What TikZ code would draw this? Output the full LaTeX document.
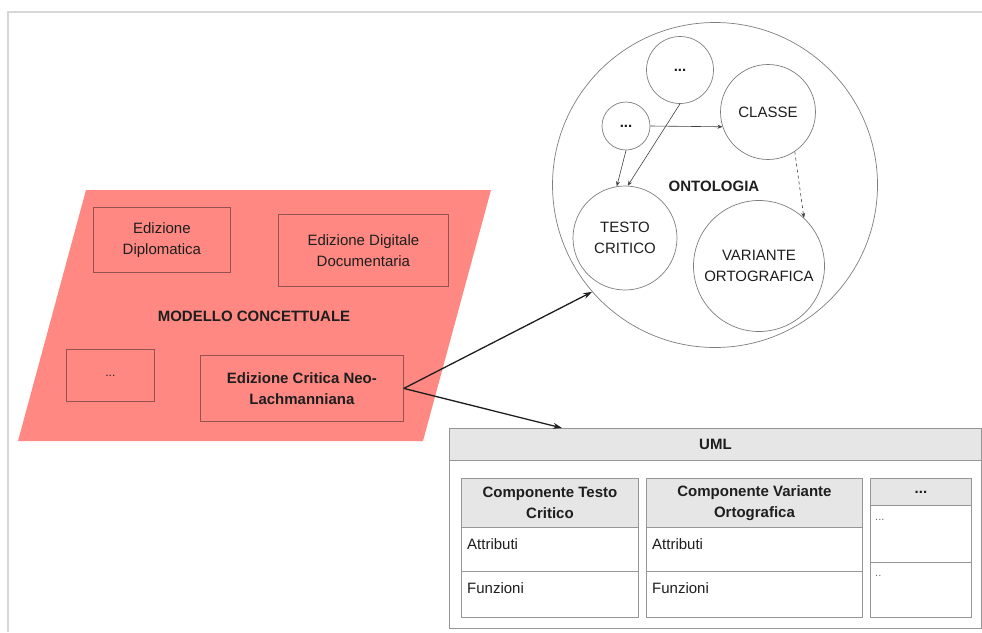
\documentclass[tikz,border=0pt]{standalone}
\usepackage{fontspec}
\setmainfont{Liberation Sans}
\usetikzlibrary{shapes.geometric,arrows.meta}
\definecolor{salmon}{RGB}{255,137,130}
\definecolor{boxedge}{RGB}{150,82,78}
\definecolor{hdrgray}{RGB}{230,230,230}
\definecolor{tabedge}{RGB}{150,150,150}
\definecolor{ringgray}{RGB}{125,125,125}
\definecolor{framegray}{RGB}{214,214,214}
\definecolor{inkgray}{RGB}{30,30,30}

\begin{document}
\begin{tikzpicture}[x=1pt,y=-1pt,
  every node/.style={font=\fontsize{15}{21}\selectfont, text=inkgray, inner sep=0pt},
  conceptbox/.style={draw=boxedge, line width=0.8pt, fill=salmon, align=center, anchor=north west},
  ring/.style={circle, draw=ringgray, line width=0.7pt, fill=white, align=center},
  link/.style={draw=inkgray, line width=1.3pt, -{Stealth[length=9pt,width=6pt]}},
  thinlink/.style={draw=black!75, line width=0.6pt, -{Stealth[length=5pt,width=4pt]}},
  tabhead/.style={draw=tabedge, line width=0.9pt, fill=hdrgray, align=center, anchor=north west,
                  font=\fontsize{15}{21}\selectfont\bfseries},
  tabrow/.style={draw=tabedge, line width=0.9pt, fill=white, anchor=north west},
  rowtext/.style={anchor=west},
  smalldots/.style={anchor=west, font=\fontsize{11}{13}\selectfont, text=black!60}
]
\useasboundingbox (0,0) rectangle (982,632);

% outer frame
\draw[framegray, line width=2pt] (8,632) -- (8,12) -- (982,12);

% conceptual model area
\fill[salmon] (86,190) -- (491,190) -- (423,441) -- (18,441) -- cycle;
\node[conceptbox, minimum width=137pt, minimum height=65pt] (dipl) at (93,207) {Edizione\\Diplomatica};
\node[conceptbox, minimum width=170pt, minimum height=72pt] (digi) at (278,214) {Edizione Digitale\\Documentaria};
\node[font=\fontsize{15}{21}\selectfont\bfseries] (modello) at (254,316) {MODELLO CONCETTUALE};
\node[conceptbox, minimum width=88pt, minimum height=52pt, font=\fontsize{12}{14}\selectfont] (more) at (66,349) {...};
\node[conceptbox, minimum width=203pt, minimum height=66pt, font=\fontsize{15}{21}\selectfont\bfseries] (neo) at (200,355) {Edizione Critica Neo-\\Lachmanniana};

% ontology
\node[circle, draw=ringgray, line width=0.7pt, minimum size=325pt] (onto) at (715,185) {};
\node[font=\fontsize{15}{21}\selectfont\bfseries] (ontolabel) at (714,186) {ONTOLOGIA};
\node[ring, minimum size=67pt] (topdots) at (680,70) {\bfseries ...};
\node[ring, minimum size=48pt] (leftdots) at (626,126) {\bfseries ...};
\node[ring, minimum size=95pt] (classe) at (768,112) {CLASSE};
\node[ring, minimum size=104pt] (testo) at (625,238) {TESTO\\CRITICO};
\node[ring, minimum size=131pt] (variante) at (759,266) {VARIANTE\\ORTOGRAFICA};

\draw[thinlink] (leftdots.east) -- (classe.198);
\draw[thinlink] (leftdots.south) -- (testo.99);
\draw[thinlink] (topdots.south) -- (testo.87);
\draw[thinlink, dashed] (classe.304) -- (variante.47);

% UML diagram
\node[tabrow, minimum width=532pt, minimum height=200pt] (uml) at (449,428) {};
\node[tabhead, minimum width=532pt, minimum height=32pt] (umlhead) at (449,428) {UML};

\node[tabhead, minimum width=177pt, minimum height=49pt] (c1head) at (461,478) {Componente Testo\\Critico};
\node[tabrow, minimum width=177pt, minimum height=44pt] (c1attr) at (461,527) {};
\node[tabrow, minimum width=177pt, minimum height=46pt] (c1func) at (461,571) {};
\node[rowtext] (c1attrtxt) at (467,544) {Attributi};
\node[rowtext] (c1functxt) at (467,588) {Funzioni};

\node[tabhead, minimum width=216pt, minimum height=49pt] (c2head) at (646,478) {Componente Variante\\Ortografica};
\node[tabrow, minimum width=216pt, minimum height=44pt] (c2attr) at (646,527) {};
\node[tabrow, minimum width=216pt, minimum height=46pt] (c2func) at (646,571) {};
\node[rowtext] (c2attrtxt) at (652,544) {Attributi};
\node[rowtext] (c2functxt) at (652,588) {Funzioni};

\node[tabhead, minimum width=101pt, minimum height=27pt] (c3head) at (870,478) {...};
\node[tabrow, minimum width=101pt, minimum height=57pt] (c3top) at (870,505) {};
\node[tabrow, minimum width=101pt, minimum height=55pt] (c3bot) at (870,562) {};
\node[smalldots] (c3toptxt) at (875,520) {...};
\node[smalldots] (c3bottxt) at (875,576) {..};

% links from the critical edition model
\coordinate (umlin) at (562,428);
\draw[link] (neo.east) -- (onto.221);
\draw[link] (neo.east) -- (umlin);
\end{tikzpicture}
\end{document}
